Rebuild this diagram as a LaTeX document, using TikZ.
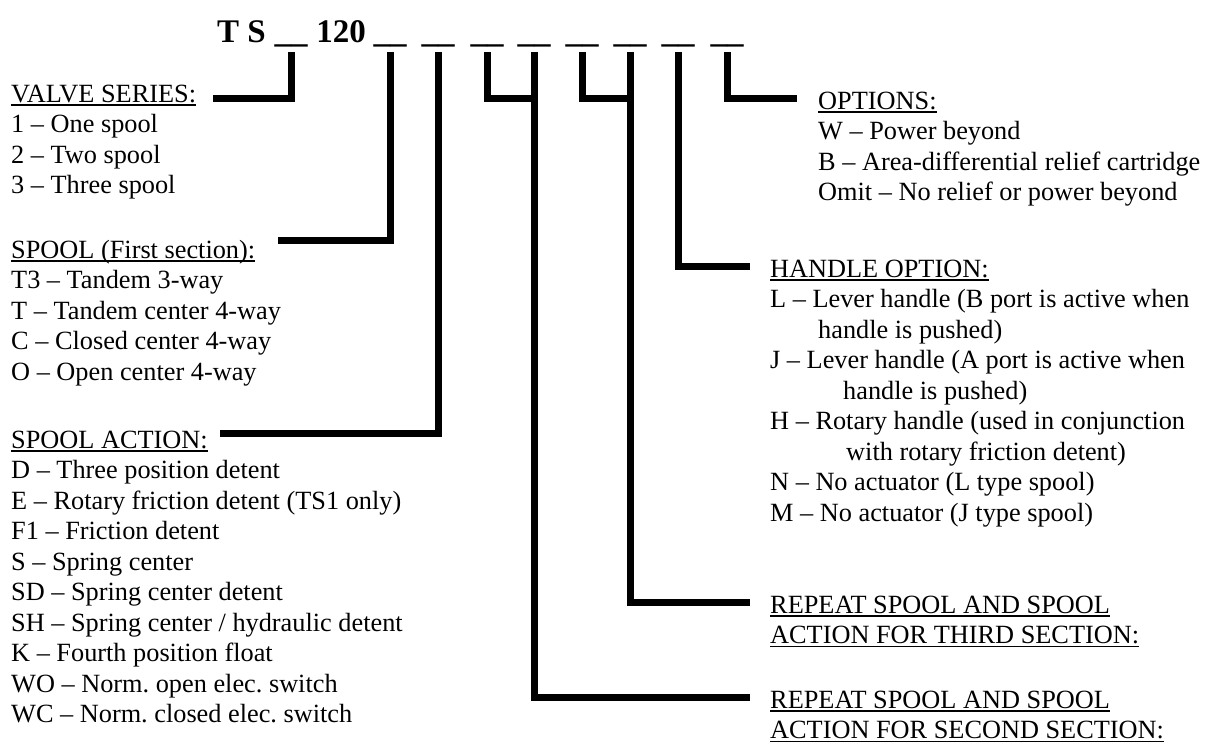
\documentclass[tikz,border=0pt]{standalone}
\usepackage{fontspec}
\setmainfont{Liberation Serif}

\newsavebox\hdbox
\newcommand{\headul}[1]{\sbox\hdbox{#1}\rlap{\rule[-3.6pt]{\wd\hdbox}{1.4pt}}\usebox\hdbox}

\tikzset{
  conn/.style={line width=7pt, line join=miter},
  txt/.style={anchor=base west, inner sep=0pt, font=\fontsize{26.3}{30.5}\selectfont},
  blank/.style={anchor=base, inner sep=0pt, font=\fontsize{33}{40}\selectfont\bfseries},
}

\begin{document}
\begin{tikzpicture}[x=1pt,y=-1pt]
\useasboundingbox (0,0) rectangle (1214,745);

% Kopfzeile:
\node[blank, anchor=base west] (ts) at (217,42) {T S};
\node[blank] (b1) at (291,42) {\_\_}; % Serie
\node[blank] (num) at (341,42) {120};
\node[blank] (b2) at (390,42) {\_\_}; % Schieber 1
\node[blank] (b3) at (438,42) {\_\_}; % Betaetigung 1
\node[blank] (b4) at (487,42) {\_\_}; % Schieber 2
\node[blank] (b5) at (534,42) {\_\_}; % Betaetigung 2
\node[blank] (b6) at (582,42) {\_\_}; % Schieber 3
\node[blank] (b7) at (630,42) {\_\_}; % Betaetigung 3
\node[blank] (b8) at (678,42) {\_\_}; % Handgriff
\node[blank] (b9) at (727,42) {\_\_}; % Optionen

% linke Spalte:
\node[txt] (vshead) at (11,102) {\headul{VALVE SERIES:}};
\node[txt] (vs1) at (11,132.5) {1 -- One spool};
\node[txt] (vs2) at (11,163) {2 -- Two spool};
\node[txt] (vs3) at (11,193.5) {3 -- Three spool};

\node[txt] (sphead) at (11,258) {\headul{SPOOL (First section):}};
\node[txt] (sp1) at (11,288.5) {T3 -- Tandem 3-way};
\node[txt] (sp2) at (11,319) {T -- Tandem center 4-way};
\node[txt] (sp3) at (11,349.5) {C -- Closed center 4-way};
\node[txt] (sp4) at (11,380) {O -- Open center 4-way};

\node[txt] (sahead) at (11,448) {\headul{SPOOL ACTION:}};
\node[txt] (sa1) at (11,478.5) {D -- Three position detent};
\node[txt] (sa2) at (11,509) {E -- Rotary friction detent (TS1 only)};
\node[txt] (sa3) at (11,539.5) {F1 -- Friction detent};
\node[txt] (sa4) at (11,570) {S -- Spring center};
\node[txt] (sa5) at (11,600.5) {SD -- Spring center detent};
\node[txt] (sa6) at (11,631) {SH -- Spring center / hydraulic detent};
\node[txt] (sa7) at (11,661.5) {K -- Fourth position float};
\node[txt] (sa8) at (11,692) {WO -- Norm.\ open elec.\ switch};
\node[txt] (sa9) at (11,722.5) {WC -- Norm.\ closed elec.\ switch};

% rechte Spalte:
\node[txt] (ophead) at (818,109) {\headul{OPTIONS:}};
\node[txt] (op1) at (818,139.5) {W -- Power beyond};
\node[txt] (op2) at (818,170) {B -- Area-differential relief cartridge};
\node[txt] (op3) at (818,200.5) {Omit -- No relief or power beyond};

\node[txt] (hohead) at (770,277) {\headul{HANDLE OPTION:}};
\node[txt] (ho1) at (770,307.5) {L -- Lever handle (B port is active when};
\node[txt] (ho2) at (818,338) {handle is pushed)};
\node[txt] (ho3) at (770,368.5) {J -- Lever handle (A port is active when};
\node[txt] (ho4) at (843,399) {handle is pushed)};
\node[txt] (ho5) at (770,429.5) {H -- Rotary handle (used in conjunction};
\node[txt] (ho6) at (846,460) {with rotary friction detent)};
\node[txt] (ho7) at (770,490.5) {N -- No actuator (L type spool)};
\node[txt] (ho8) at (770,521) {M -- No actuator (J type spool)};

\node[txt] (rthead) at (770,613) {\headul{REPEAT SPOOL AND SPOOL}};
\node[txt] (rt1) at (770,643.5) {\headul{ACTION FOR THIRD SECTION:}};
\node[txt] (rshead) at (770,708) {\headul{REPEAT SPOOL AND SPOOL}};
\node[txt] (rs1) at (770,738.5) {\headul{ACTION FOR SECOND SECTION:}};

% freie Enden der Striche:
\coordinate (vsend) at (213,98);
\coordinate (spend) at (278,240);
\coordinate (saend) at (220,433);
\coordinate (opend) at (797,98);
\coordinate (hoend) at (750,266);
\coordinate (rtend) at (750,602);
\coordinate (rsend) at (750,697);

% Verbindungsstriche:
\draw[conn] ([yshift=-5pt]b1.south) |- (vsend);
\draw[conn] ([yshift=-5pt]b2.south) |- (spend);
\draw[conn] ([yshift=-5pt]b3.south) |- (saend);
\draw[conn] ([yshift=-5pt]b4.south) |- (b5.south |- 0,98); % zu Abschnitt 2
\draw[conn] ([yshift=-5pt]b5.south) |- (rsend);
\draw[conn] ([yshift=-5pt]b6.south) |- (b7.south |- 0,98); % zu Abschnitt 3
\draw[conn] ([yshift=-5pt]b7.south) |- (rtend);
\draw[conn] ([yshift=-5pt]b8.south) |- (hoend);
\draw[conn] ([yshift=-5pt]b9.south) |- (opend);
\end{tikzpicture}
\end{document}
